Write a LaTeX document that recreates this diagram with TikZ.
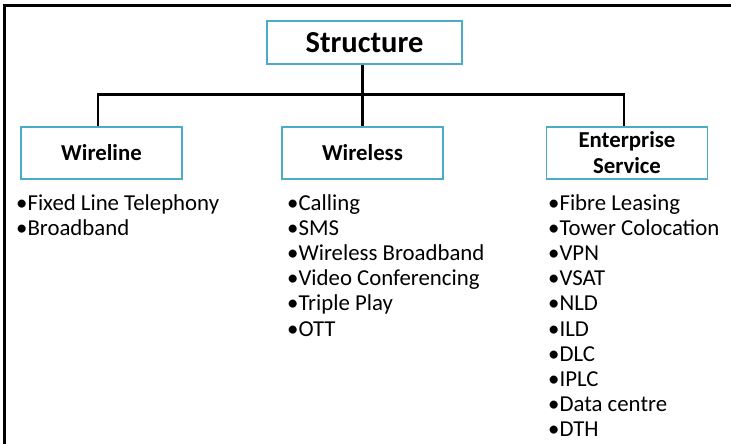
\documentclass[tikz,border=0pt]{standalone}
\usepackage{fontspec}
\setmainfont{Carlito}
\usetikzlibrary{positioning}
\definecolor{ink}{RGB}{0,0,0}
\definecolor{boxframe}{RGB}{75,172,198}
\tikzset{
  headbox/.style={draw=boxframe, line width=1.8pt, align=center, inner sep=0pt,
    minimum width=161pt, minimum height=52pt, text=ink,
    font=\fontsize{22.8}{26}\selectfont\bfseries},
  itemlist/.style={anchor=base west, align=left, inner sep=0pt, text=ink,
    font=\fontsize{22.8}{25.1}\selectfont},
  bus/.style={line width=2.4pt, draw=ink},
  frameline/.style={line width=3pt, draw=ink},
}

\begin{document}
\begin{tikzpicture}[x=1pt,y=-1pt]
  \useasboundingbox (0,0) rectangle (731,444);
  \draw[frameline] (4,444) -- (4,6) -- (731,6);
  % top of the tree
  \node[headbox, minimum width=195pt, minimum height=43pt,
        font=\fontsize{30.5}{34}\selectfont\bfseries] (structure) at (364.5,42.5) {Structure};
  % the three branches
  \node[headbox] (wireline) at (101.5,153) {Wireline};
  \node[headbox] (wireless) at (362.5,153) {Wireless};
  \node[headbox] (enterprise) at (627,153) {Enterprise\\Service};
  \coordinate (junction) at (362.5,94.5);
  \draw[bus] (wireless.north) -- (wireless.north |- structure.south);
  \draw[bus] ([xshift=-3.5pt]wireline.north) |- (junction) -| ([xshift=-3pt]enterprise.north);
  % what each branch offers (anchored at the baseline of the last line)
  \node[itemlist] (wirelinelist) at (16,235.6)
       {•Fixed Line Telephony\\•Broadband};
  \node[itemlist] (wirelesslist) at (287,336)
       {•Calling\\•SMS\\•Wireless Broadband\\•Video Conferencing\\•Triple Play\\•OTT};
  \node[itemlist] (enterpriselist) at (548,436.4)
       {•Fibre Leasing\\•Tower Colocation\\•VPN\\•VSAT\\•NLD\\•ILD\\•DLC\\•IPLC\\•Data centre\\•DTH};
\end{tikzpicture}
\end{document}
